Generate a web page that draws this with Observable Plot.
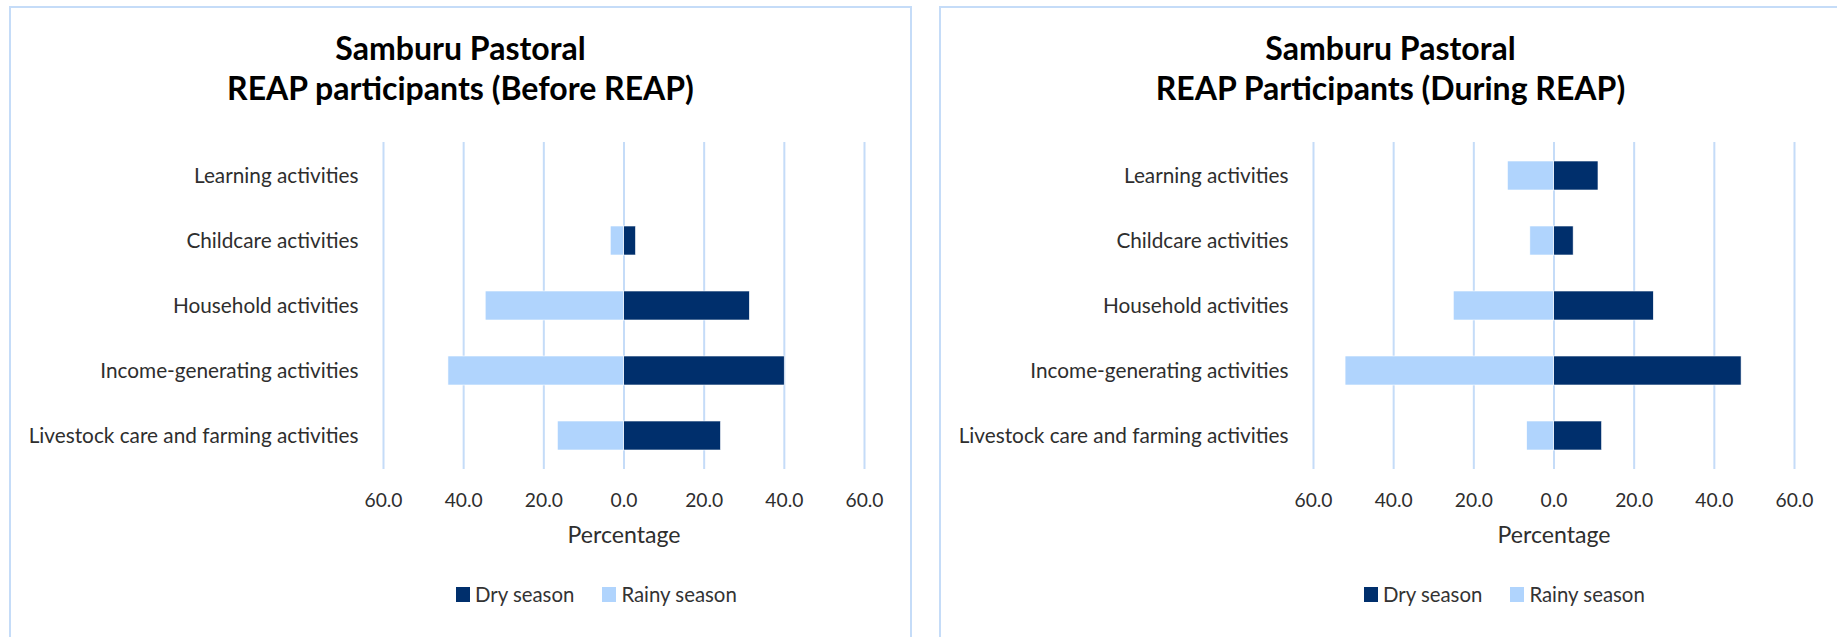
<!DOCTYPE html>
<html>
<head>
<meta charset="utf-8">
<script src="https://cdn.jsdelivr.net/npm/d3@7"></script>
<script src="https://cdn.jsdelivr.net/npm/@observablehq/plot@0.6"></script>
<style>
  body { margin: 0; background: #fff; }
  #root { position: relative; width: 1837px; height: 637px; overflow: hidden; background: #fff; }
  .panel { position: absolute; top: 6px; width: 903px; height: 720px; border: 2px solid #c5dcf8; box-sizing: border-box; }
  .title { position: absolute; text-align: center; font-weight: bold; color: #000; line-height: 40px; white-space: nowrap; }
  .chart { position: absolute; top: 120px; }
  .legend { position: absolute; display: flex; align-items: center; color: #333; white-space: nowrap; }
  .sw { width: 14px; height: 15px; display: inline-block; }
</style>
</head>
<body>
<div id="root"></div>
<script>
// ---- data ----
const categories = [
  "Learning activities",
  "Childcare activities",
  "Household activities",
  "Income-generating activities",
  "Livestock care and farming activities"
];
const seriesNames = ["Dry season", "Rainy season"];
const beforeDry   = [0, 3.0, 31.4, 40.1, 24.2];
const beforeRainy = [0, 3.3, 34.5, 43.8, 16.5];
const duringDry   = [11.1, 4.9, 24.9, 46.8, 12.0];
const duringRainy = [11.5, 5.9, 25.0, 52.0, 6.7];
const xTicks = [-60, -40, -20, 0, 20, 40, 60];
const titleLine1 = "Samburu Pastoral";
const titles2 = ["REAP participants (Before REAP)", "REAP Participants (During REAP)"];
const xLabel = "Percentage";

// ---- styles ----
const FAMILY = "Lato, 'Open Sans', sans-serif";
const DRY = "#002f6c", RAINY = "#b0d4fd", GRID = "#c5dcf8", TEXT = "#2e2e2e";

function fit(text, weight, target) {
  const c = document.createElement("canvas").getContext("2d");
  c.font = `${weight} 100px Lato`;
  return 100 * target / c.measureText(text).width;
}
const labelSize = fit("Livestock care and farming activities", "normal", 330);
const tickSize = fit("60.0", "normal", 38);
const xLabelSize = fit("Percentage", "normal", 113);
const legendSize = fit("Rainy season", "normal", 116);
const titleSize = fit("REAP participants (Before REAP)", "bold", 468);

const root = document.getElementById("root");

const panels = [
  {left: 9, chartLeft: 10, dry: beforeDry, rainy: beforeRainy, title2: titles2[0], legendLeft: 456},
  {left: 939, chartLeft: 940, dry: duringDry, rainy: duringRainy, title2: titles2[1], legendLeft: 1364}
];

for (const p of panels) {
  const box = document.createElement("div");
  box.className = "panel";
  box.style.left = p.left + "px";
  root.appendChild(box);

  const t = document.createElement("div");
  t.className = "title";
  t.style.left = p.left + "px";
  t.style.width = "903px";
  t.style.top = "28px";
  t.style.fontFamily = FAMILY;
  t.style.fontSize = titleSize + "px";
  t.innerHTML = titleLine1 + "<br>" + p.title2;
  root.appendChild(t);

  const data = [];
  categories.forEach((c, i) => {
    data.push({cat: c, series: seriesNames[0], x1: 0, x2: p.dry[i]});
    data.push({cat: c, series: seriesNames[1], x1: -p.rainy[i], x2: 0});
  });

  const chart = Plot.plot({
    width: 902,
    height: 429,
    marginLeft: 373,
    marginRight: 48,
    marginTop: 22,
    marginBottom: 80,
    style: {fontFamily: FAMILY, color: TEXT, background: "transparent", overflow: "visible"},
    x: {domain: [-60, 60]},
    y: {domain: categories, paddingInner: 0.56, paddingOuter: 0.28},
    color: {domain: seriesNames, range: [DRY, RAINY]},
    marks: [
      Plot.gridX(xTicks, {stroke: GRID, strokeOpacity: 1, strokeWidth: 2}),
      Plot.barX(data, {x1: "x1", x2: "x2", y: "cat", fill: "series", stroke: "white", strokeWidth: 0.6}),
      Plot.ruleX([0], {y1: null, stroke: GRID, strokeWidth: 2}),
      Plot.axisX(xTicks, {tickSize: 0, tickPadding: 37.8 - 0.71 * tickSize, fontSize: tickSize,
        tickFormat: d => Math.abs(d).toFixed(1), label: null, fill: TEXT}),
      Plot.axisY({tickSize: 0, tickPadding: 25, fontSize: labelSize, label: null, fill: TEXT}),
      Plot.text([xLabel], {frameAnchor: "bottom", lineAnchor: "middle", dy: 66, fontSize: xLabelSize, fill: TEXT})
    ]
  });
  chart.classList.add("chart");
  chart.style.left = p.chartLeft + "px";
  root.appendChild(chart);

  const lg = document.createElement("div");
  lg.className = "legend";
  lg.style.left = p.legendLeft + "px";
  lg.style.top = "580px";
  lg.style.height = "28px";
  lg.style.fontFamily = FAMILY;
  lg.style.fontSize = legendSize + "px";
  seriesNames.forEach((s, i) => {
    const sw = document.createElement("span");
    sw.className = "sw";
    sw.style.background = i === 0 ? DRY : RAINY;
    sw.style.marginLeft = i === 0 ? "0px" : "28px";
    sw.style.marginRight = "5px";
    lg.appendChild(sw);
    const tx = document.createElement("span");
    tx.textContent = s;
    lg.appendChild(tx);
  });
  root.appendChild(lg);
}
</script>
</body>
</html>
